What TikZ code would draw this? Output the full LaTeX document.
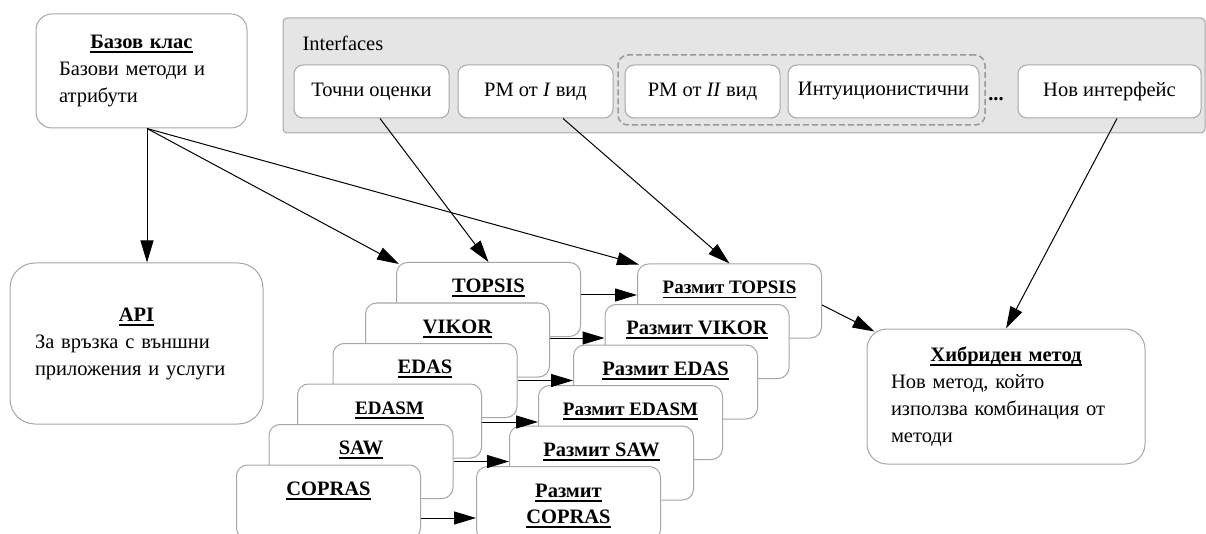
\documentclass[tikz,border=0pt]{standalone}
\usepackage{fontspec}
\setmainfont{Liberation Serif}
\usepackage{tikz}
\usetikzlibrary{arrows.meta, positioning}

\newcommand{\ttl}[1]{\setbox0\hbox{\bfseries #1}\rlap{\rule[-4.5pt]{\wd0}{1.8pt}}\box0}
\newcommand{\ttlline}[1]{\noindent\hbox to\hsize{\hss\ttl{#1}\hss}\\}

\begin{document}
\begin{tikzpicture}[x=1pt, y=-1pt, node distance=40.5pt, line width=1pt, >={Triangle[length=22pt,width=13pt]},
    every node/.style={font=\fontsize{20.5}{27}\selectfont}]
    \tikzstyle{classbox} = [rectangle, rounded corners=16pt, draw=black!35, fill=white, align=left, inner ysep=0pt]
    \tikzstyle{group} = [rectangle, rounded corners=4pt, draw=black!35, fill=black!10]
    \tikzstyle{iface} = [rectangle, rounded corners=9pt, draw=black!35, fill=white, minimum height=53pt, inner xsep=0pt, text centered]
    \tikzstyle{method} = [rectangle, rounded corners=11pt, draw=black!35, fill=white, minimum width=184pt, inner xsep=0pt, inner ysep=0pt, text height=30pt, text depth=44pt, align=center]
    \tikzstyle{smaller} = [font=\fontsize{19}{26}\selectfont]

    \clip (0,0) rectangle (1206,534);

    % Base class
    \node [classbox, rounded corners=16pt, text width=165pt, inner xsep=23pt, minimum height=114pt] (base) at (141.5,71)
        {\ttlline{Базов клас}Базови методи и\\атрибути};

    % Interfaces
    \node [group, minimum width=922pt, minimum height=115pt] (ifaces) at (744,75.5) {};
    \node [anchor=west, inner sep=0pt] (ifacelabel) at (302,43.5) {Interfaces};
    \node [rectangle, rounded corners=10pt, draw=black!40, dashed, dash pattern=on 6pt off 3pt, line width=1.5pt,
        minimum width=367pt, minimum height=70pt] (fuzzygroup) at (801.5,90) {};
    \node [iface, minimum width=155pt] (tochni) at (371.5,91.5) {Точни оценки};
    \node [iface, minimum width=155pt] (rmone) at (535.5,91.5) {РМ от \textit{I} вид};
    \node [iface, minimum width=155pt] (rmtwo) at (702.5,91.5) {РМ от \textit{II} вид};
    \node [iface, minimum width=191pt] (intu) at (883.5,91.5) {Интуиционистични};
    \node [anchor=base, inner sep=0pt] (dots) at (996,101) {\textbf{...}};
    \node [iface, minimum width=183pt] (novi) at (1109.5,91.5) {Нов интерфейс};

    % API
    \node [classbox, rounded corners=25pt, text width=203pt, inner xsep=25pt, minimum height=161pt] (api) at (136.5,343.5)
        {\ttlline{API}За връзка с външни\\приложения и услуги};

    % Crisp methods
    \node [method] (topsis) at (488.5,299.5) {\ttl{TOPSIS}};
    \node [method, below of=topsis, xshift=-31pt] (vikor) {\ttl{VIKOR}};
    \node [method, below of=vikor, xshift=-32.5pt] (edas) {\ttl{EDAS}};
    \node [method, smaller, below of=edas, xshift=-35.5pt] (edasm) {\ttl{EDASM}};
    \node [method, below of=edasm, xshift=-28.5pt] (saw) {\ttl{SAW}};
    \node [method, below of=saw, xshift=-32.5pt] (copras) {\ttl{COPRAS}};

    % Fuzzy methods
    \node [method, smaller, right of=topsis, xshift=200.5pt, yshift=-1.5pt] (ftopsis) {\ttl{Размит TOPSIS}};
    \node [method, below of=ftopsis, xshift=-32.5pt] (fvikor) {\ttl{Размит VIKOR}};
    \node [method, below of=fvikor, xshift=-31.5pt] (fedas) {\ttl{Размит EDAS}};
    \node [method, smaller, below of=fedas, xshift=-35pt] (fedasm) {\ttl{Размит EDASM}};
    \node [method, below of=fedasm, xshift=-29pt] (fsaw) {\ttl{Размит SAW}};
    \node [method, below of=fsaw, xshift=-33pt, text height=57pt, text depth=17pt] (fcopras) {\ttl{Размит}\\[-1pt]\ttl{COPRAS}};

    % Hybrid method
    \node [classbox, rounded corners=20pt, text width=230pt, inner xsep=24pt, minimum height=135pt] (hybrid) at (1006,396.5)
        {\ttlline{Хибриден метод}Нов метод, който\\използва комбинация от\\методи};

    % Connections
    \coordinate (bout) at ([xshift=5.5pt]base.south);
    \draw [->] (bout) -- (bout |- api.north);
    \draw [->] (bout) -- ([xshift=3pt,yshift=-2pt]topsis.north west);
    \draw [->] (bout) -- ([xshift=2pt,yshift=-1pt]ftopsis.north west);

    \draw [->] ([xshift=8.5pt]tochni.south) -- (topsis.north);
    \draw [->] ([xshift=27.5pt]rmone.south) -- (ftopsis.north);
    \draw [->] ([xshift=7.5pt]novi.south) -- (hybrid.north);
    \draw [->] ([yshift=-4pt]ftopsis.east) -- ([xshift=8pt,yshift=-3pt]hybrid.north west);

    \draw [->] ([yshift=4.5pt]topsis.east) -- ([yshift=4.5pt]topsis.east -| ftopsis.west);
    \draw [->] ([yshift=2pt]vikor.east) -- ([yshift=2pt]vikor.east -| fvikor.west);
    \draw [->] (edas.east) -- (edas.east -| fedas.west);
    \draw [->] ([yshift=-1pt]edasm.east) -- ([yshift=-1pt]edasm.east -| fedasm.west);
    \draw [->] (saw.east) -- (saw.east -| fsaw.west);
    \draw [->] ([yshift=-16pt]copras.east) -- ([yshift=-16pt]copras.east -| fcopras.west);
\end{tikzpicture}
\end{document}
